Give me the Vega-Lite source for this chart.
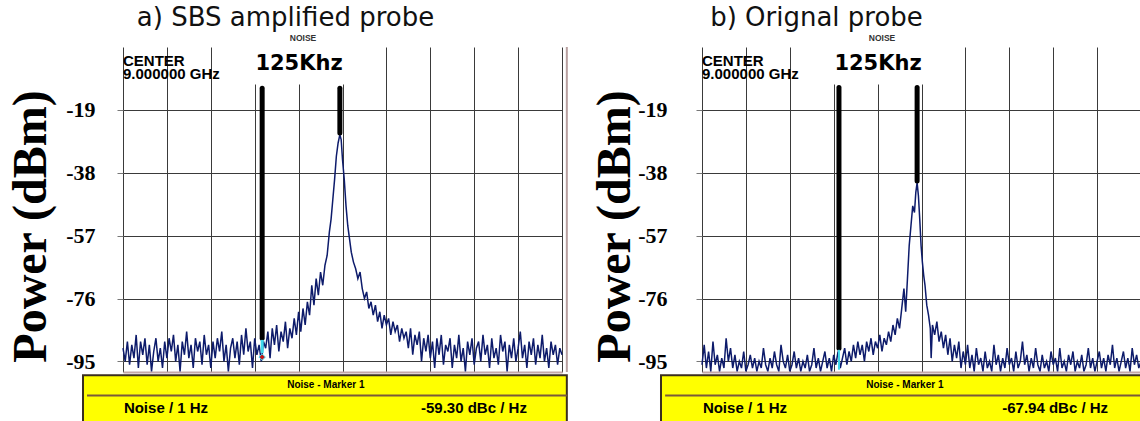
{
"$schema": "https://vega.github.io/schema/vega-lite/v6.json",
"autosize": {"type": "pad"},
"padding": {"left": 7, "top": 5, "right": 0, "bottom": 0},
"background": "white",
"bounds": "flush",
"spacing": 140,
"config": {"view": {"stroke": null}},
"datasets": {
"traceA": [
{"x":0,"y":-91},{"x":0.05,"y":-95},{"x":0.1,"y":-89},{"x":0.15,"y":-96},{"x":0.2,"y":-90},{"x":0.25,"y":-94},{"x":0.3,"y":-87},{"x":0.35,"y":-97},{"x":0.4,"y":-89},{"x":0.45,"y":-93},
{"x":0.5,"y":-88},{"x":0.55,"y":-96},{"x":0.6,"y":-90},{"x":0.65,"y":-98},{"x":0.7,"y":-92},{"x":0.75,"y":-88},{"x":0.8,"y":-95},{"x":0.85,"y":-91},{"x":0.9,"y":-97},{"x":0.95,"y":-89},
{"x":1,"y":-94},{"x":1.05,"y":-88},{"x":1.1,"y":-92},{"x":1.15,"y":-87},{"x":1.2,"y":-95},{"x":1.25,"y":-90},{"x":1.3,"y":-98},{"x":1.35,"y":-89},{"x":1.4,"y":-93},{"x":1.45,"y":-86},
{"x":1.5,"y":-94},{"x":1.55,"y":-90},{"x":1.6,"y":-97},{"x":1.65,"y":-88},{"x":1.7,"y":-92},{"x":1.75,"y":-89},{"x":1.8,"y":-96},{"x":1.85,"y":-87},{"x":1.9,"y":-93},{"x":1.95,"y":-90},
{"x":2,"y":-97},{"x":2.05,"y":-89},{"x":2.1,"y":-94},{"x":2.15,"y":-88},{"x":2.2,"y":-92},{"x":2.25,"y":-86},{"x":2.3,"y":-95},{"x":2.35,"y":-90},{"x":2.4,"y":-98},{"x":2.45,"y":-91},
{"x":2.5,"y":-88},{"x":2.55,"y":-94},{"x":2.6,"y":-89},{"x":2.65,"y":-96},{"x":2.7,"y":-87},{"x":2.75,"y":-93},{"x":2.8,"y":-85},{"x":2.85,"y":-92},{"x":2.9,"y":-89},{"x":2.95,"y":-97},
{"x":3,"y":-88},{"x":3.05,"y":-93},{"x":3.1,"y":-90},{"x":3.15,"y":-95},{"x":3.2,"y":-89},{"x":3.25,"y":-91},{"x":3.3,"y":-86},{"x":3.35,"y":-94},{"x":3.4,"y":-85},{"x":3.45,"y":-90},
{"x":3.5,"y":-84},{"x":3.55,"y":-92},{"x":3.6,"y":-86},{"x":3.65,"y":-89},{"x":3.7,"y":-83},{"x":3.75,"y":-91},{"x":3.8,"y":-85},{"x":3.85,"y":-88},{"x":3.9,"y":-82},{"x":3.95,"y":-87},
{"x":4,"y":-80},{"x":4.05,"y":-86},{"x":4.1,"y":-79},{"x":4.15,"y":-84},{"x":4.2,"y":-77},{"x":4.25,"y":-81},{"x":4.3,"y":-72},{"x":4.35,"y":-78},{"x":4.4,"y":-70},{"x":4.45,"y":-75},
{"x":4.5,"y":-68},{"x":4.55,"y":-72},{"x":4.6,"y":-66},{"x":4.65,"y":-63},{"x":4.7,"y":-56},{"x":4.74,"y":-52},{"x":4.78,"y":-46},{"x":4.82,"y":-40},{"x":4.86,"y":-33},{"x":4.9,"y":-29},
{"x":4.94,"y":-26.5},{"x":4.97,"y":-28},{"x":5,"y":-34},{"x":5.04,"y":-40},{"x":5.08,"y":-48},{"x":5.12,"y":-54},{"x":5.16,"y":-58},{"x":5.2,"y":-62},{"x":5.25,"y":-65},{"x":5.3,"y":-67},
{"x":5.35,"y":-70},{"x":5.4,"y":-68},{"x":5.45,"y":-73},{"x":5.5,"y":-76},{"x":5.55,"y":-74},{"x":5.6,"y":-79},{"x":5.65,"y":-77},{"x":5.7,"y":-81},{"x":5.75,"y":-78},{"x":5.8,"y":-83},
{"x":5.85,"y":-80},{"x":5.9,"y":-85},{"x":5.95,"y":-81},{"x":6,"y":-84},{"x":6.05,"y":-82},{"x":6.1,"y":-87},{"x":6.15,"y":-83},{"x":6.2,"y":-86},{"x":6.25,"y":-84},{"x":6.3,"y":-89},
{"x":6.35,"y":-85},{"x":6.4,"y":-88},{"x":6.45,"y":-86},{"x":6.5,"y":-91},{"x":6.55,"y":-85},{"x":6.6,"y":-93},{"x":6.65,"y":-87},{"x":6.7,"y":-90},{"x":6.75,"y":-86},{"x":6.8,"y":-95},
{"x":6.85,"y":-88},{"x":6.9,"y":-92},{"x":6.95,"y":-87},{"x":7,"y":-94},{"x":7.05,"y":-89},{"x":7.1,"y":-97},{"x":7.15,"y":-88},{"x":7.2,"y":-93},{"x":7.25,"y":-87},{"x":7.3,"y":-96},
{"x":7.35,"y":-90},{"x":7.4,"y":-92},{"x":7.45,"y":-88},{"x":7.5,"y":-97},{"x":7.55,"y":-90},{"x":7.6,"y":-94},{"x":7.65,"y":-87},{"x":7.7,"y":-95},{"x":7.75,"y":-91},{"x":7.8,"y":-98},
{"x":7.85,"y":-89},{"x":7.9,"y":-93},{"x":7.95,"y":-88},{"x":8,"y":-96},{"x":8.05,"y":-91},{"x":8.1,"y":-89},{"x":8.15,"y":-95},{"x":8.2,"y":-87},{"x":8.25,"y":-93},{"x":8.3,"y":-90},
{"x":8.35,"y":-97},{"x":8.4,"y":-88},{"x":8.45,"y":-94},{"x":8.5,"y":-91},{"x":8.55,"y":-96},{"x":8.6,"y":-87},{"x":8.65,"y":-92},{"x":8.7,"y":-89},{"x":8.75,"y":-98},{"x":8.8,"y":-90},
{"x":8.85,"y":-94},{"x":8.9,"y":-88},{"x":8.95,"y":-95},{"x":9,"y":-91},{"x":9.05,"y":-86},{"x":9.1,"y":-94},{"x":9.15,"y":-90},{"x":9.2,"y":-97},{"x":9.25,"y":-89},{"x":9.3,"y":-93},
{"x":9.35,"y":-88},{"x":9.4,"y":-96},{"x":9.45,"y":-90},{"x":9.5,"y":-94},{"x":9.55,"y":-87},{"x":9.6,"y":-95},{"x":9.65,"y":-91},{"x":9.7,"y":-97},{"x":9.75,"y":-89},{"x":9.8,"y":-93},
{"x":9.85,"y":-90},{"x":9.9,"y":-96},{"x":9.95,"y":-91},{"x":10,"y":-93}
],
"traceB": [
{"x":0,"y":-96},{"x":0.05,"y":-90},{"x":0.1,"y":-97},{"x":0.15,"y":-92},{"x":0.2,"y":-98},{"x":0.25,"y":-89},{"x":0.3,"y":-96},{"x":0.35,"y":-93},{"x":0.4,"y":-98},{"x":0.45,"y":-94},
{"x":0.5,"y":-97},{"x":0.55,"y":-88},{"x":0.6,"y":-95},{"x":0.65,"y":-91},{"x":0.7,"y":-97},{"x":0.75,"y":-93},{"x":0.8,"y":-98},{"x":0.85,"y":-95},{"x":0.9,"y":-97},{"x":0.95,"y":-92},
{"x":1,"y":-98},{"x":1.05,"y":-96},{"x":1.1,"y":-93},{"x":1.15,"y":-97},{"x":1.2,"y":-94},{"x":1.25,"y":-98},{"x":1.3,"y":-95},{"x":1.35,"y":-97},{"x":1.4,"y":-91},{"x":1.45,"y":-96},
{"x":1.5,"y":-98},{"x":1.55,"y":-94},{"x":1.6,"y":-97},{"x":1.65,"y":-92},{"x":1.7,"y":-96},{"x":1.75,"y":-98},{"x":1.8,"y":-90},{"x":1.85,"y":-95},{"x":1.9,"y":-97},{"x":1.95,"y":-93},
{"x":2,"y":-98},{"x":2.05,"y":-96},{"x":2.1,"y":-92},{"x":2.15,"y":-97},{"x":2.2,"y":-94},{"x":2.25,"y":-98},{"x":2.3,"y":-95},{"x":2.35,"y":-97},{"x":2.4,"y":-93},{"x":2.45,"y":-98},
{"x":2.5,"y":-96},{"x":2.55,"y":-91},{"x":2.6,"y":-97},{"x":2.65,"y":-94},{"x":2.7,"y":-98},{"x":2.75,"y":-95},{"x":2.8,"y":-92},{"x":2.85,"y":-97},{"x":2.9,"y":-94},{"x":2.95,"y":-98},
{"x":3,"y":-93},{"x":3.05,"y":-96},{"x":3.1,"y":-92},{"x":3.15,"y":-97},{"x":3.2,"y":-94},{"x":3.25,"y":-91},{"x":3.3,"y":-96},{"x":3.35,"y":-92},{"x":3.4,"y":-95},{"x":3.45,"y":-90},
{"x":3.5,"y":-94},{"x":3.55,"y":-89},{"x":3.6,"y":-93},{"x":3.65,"y":-90},{"x":3.7,"y":-95},{"x":3.75,"y":-89},{"x":3.8,"y":-92},{"x":3.85,"y":-88},{"x":3.9,"y":-93},{"x":3.95,"y":-89},
{"x":4,"y":-91},{"x":4.05,"y":-87},{"x":4.1,"y":-92},{"x":4.15,"y":-88},{"x":4.2,"y":-90},{"x":4.25,"y":-86},{"x":4.3,"y":-89},{"x":4.35,"y":-84},{"x":4.4,"y":-87},{"x":4.45,"y":-82},
{"x":4.5,"y":-85},{"x":4.55,"y":-79},{"x":4.6,"y":-73},{"x":4.64,"y":-80},{"x":4.68,"y":-70},{"x":4.72,"y":-60},{"x":4.76,"y":-54},{"x":4.8,"y":-48},{"x":4.84,"y":-50},{"x":4.87,"y":-44},
{"x":4.9,"y":-41},{"x":4.93,"y":-45},{"x":4.96,"y":-52},{"x":4.99,"y":-60},{"x":5.02,"y":-65},{"x":5.05,"y":-69},{"x":5.08,"y":-72},{"x":5.12,"y":-78},{"x":5.16,"y":-81},{"x":5.2,"y":-85},
{"x":5.22,"y":-94},{"x":5.25,"y":-84},{"x":5.3,"y":-87},{"x":5.35,"y":-83},{"x":5.4,"y":-89},{"x":5.45,"y":-86},{"x":5.5,"y":-91},{"x":5.55,"y":-87},{"x":5.6,"y":-93},{"x":5.65,"y":-88},
{"x":5.7,"y":-95},{"x":5.75,"y":-90},{"x":5.8,"y":-94},{"x":5.85,"y":-89},{"x":5.9,"y":-97},{"x":5.95,"y":-92},{"x":6,"y":-96},{"x":6.05,"y":-90},{"x":6.1,"y":-97},{"x":6.15,"y":-93},
{"x":6.2,"y":-98},{"x":6.25,"y":-91},{"x":6.3,"y":-96},{"x":6.35,"y":-94},{"x":6.4,"y":-98},{"x":6.45,"y":-92},{"x":6.5,"y":-97},{"x":6.55,"y":-95},{"x":6.6,"y":-98},{"x":6.65,"y":-90},
{"x":6.7,"y":-96},{"x":6.75,"y":-93},{"x":6.8,"y":-98},{"x":6.85,"y":-94},{"x":6.9,"y":-97},{"x":6.95,"y":-91},{"x":7,"y":-96},{"x":7.05,"y":-94},{"x":7.1,"y":-98},{"x":7.15,"y":-92},
{"x":7.2,"y":-97},{"x":7.25,"y":-95},{"x":7.3,"y":-89},{"x":7.35,"y":-96},{"x":7.4,"y":-93},{"x":7.45,"y":-98},{"x":7.5,"y":-94},{"x":7.55,"y":-97},{"x":7.6,"y":-91},{"x":7.65,"y":-96},
{"x":7.7,"y":-98},{"x":7.75,"y":-93},{"x":7.8,"y":-97},{"x":7.85,"y":-95},{"x":7.9,"y":-98},{"x":7.95,"y":-92},{"x":8,"y":-96},{"x":8.05,"y":-94},{"x":8.1,"y":-98},{"x":8.15,"y":-91},
{"x":8.2,"y":-97},{"x":8.25,"y":-95},{"x":8.3,"y":-98},{"x":8.35,"y":-93},{"x":8.4,"y":-96},{"x":8.45,"y":-92},{"x":8.5,"y":-98},{"x":8.55,"y":-95},{"x":8.6,"y":-97},{"x":8.65,"y":-93},
{"x":8.7,"y":-98},{"x":8.75,"y":-96},{"x":8.8,"y":-91},{"x":8.85,"y":-97},{"x":8.9,"y":-94},{"x":8.95,"y":-98},{"x":9,"y":-95},{"x":9.05,"y":-92},{"x":9.1,"y":-97},{"x":9.15,"y":-94},
{"x":9.2,"y":-98},{"x":9.25,"y":-93},{"x":9.3,"y":-96},{"x":9.35,"y":-90},{"x":9.4,"y":-97},{"x":9.45,"y":-94},{"x":9.5,"y":-98},{"x":9.55,"y":-95},{"x":9.6,"y":-92},{"x":9.65,"y":-97},
{"x":9.7,"y":-94},{"x":9.75,"y":-98},{"x":9.8,"y":-91},{"x":9.85,"y":-96},{"x":9.9,"y":-93},{"x":9.95,"y":-97},{"x":10,"y":-95}
]
},
"hconcat": [
{
"width": 439, "height": 325,
"title": {"text": "a) SBS amplified probe", "font": "DejaVu Sans", "fontSize": 26, "fontWeight": "normal", "color": "#111", "anchor": "middle", "frame": "group", "offset": -18, "baseline": "alphabetic", "dx": -57},
"layer": [
{"data": {"values": [{"x": 2.89, "x2": 5.08, "y": 0, "y2": -11.3}]}, "mark": {"type": "rect", "color": "white", "clip": false},
 "encoding": {"x": {"field": "x", "type": "quantitative", "title": null}, "x2": {"field": "x2"}, "y": {"field": "y", "type": "quantitative", "title": "Power (dBm)"}, "y2": {"field": "y2"}}},
{"data": {"name": "traceA"}, "mark": {"type": "line", "color": "#0d1b6b", "strokeWidth": 1.5},
 "encoding": {
  "x": {"field": "x", "type": "quantitative", "title": null, "scale": {"domain": [0, 10], "nice": false, "zero": false},
        "axis": {"values": [0,1,2,3,4,5,6,7,8,9,10], "labels": false, "ticks": false, "domain": true, "domainColor": "#c4a8a8", "domainWidth": 2, "grid": true, "gridColor": "#3a3a3a", "gridWidth": 1}},
  "y": {"field": "y", "type": "quantitative", "title": "Power (dBm)", "scale": {"domain": [-98.2, 0], "nice": false, "zero": false},
        "axis": {"values": [-9.5,-19,-28.5,-38,-47.5,-57,-66.5,-76,-85.5,-95], "grid": true, "gridColor": "#3a3a3a", "gridWidth": 1, "domain": false, "ticks": true, "tickSize": 6, "tickColor": "#777",
                 "labelExpr": "datum.value % 19 == 0 ? '-' + abs(datum.value) : ''", "labelFont": "Liberation Serif", "labelFontWeight": "bold", "labelFontSize": 22, "labelColor": "#000", "labelPadding": 22, "labelOverlap": false,
                 "titleFont": "Liberation Serif", "titleFontWeight": "bold", "titleFontSize": 48, "titleColor": "#000", "titleAngle": 270, "titleAlign": "center", "titleBaseline": "alphabetic", "titleX": -78, "titleY": 179}}
 }},
{"data": {"values": [{"x": 10.11, "y": 0, "y2": -98.2}]}, "mark": {"type": "rule", "color": "#b8a0a0", "strokeWidth": 2, "clip": false},
 "encoding": {"x": {"field": "x", "type": "quantitative", "title": null}, "y": {"field": "y", "type": "quantitative", "title": "Power (dBm)"}, "y2": {"field": "y2"}}},
{"data": {"values": [{"x": 3.17, "y": -12.5, "y2": -88}, {"x": 4.94, "y": -12.5, "y2": -26}]}, "mark": {"type": "rule", "color": "black", "strokeWidth": 5, "strokeCap": "round"},
 "encoding": {"x": {"field": "x", "type": "quantitative", "title": null}, "y": {"field": "y", "type": "quantitative", "title": "Power (dBm)"}, "y2": {"field": "y2"}}},
{"data": {"values": [{"x": 3.17, "y": -88.5, "y2": -92.5}]}, "mark": {"type": "rule", "color": "#40d8ec", "strokeWidth": 3},
 "encoding": {"x": {"field": "x", "type": "quantitative", "title": null}, "y": {"field": "y", "type": "quantitative", "title": "Power (dBm)"}, "y2": {"field": "y2"}}},
{"data": {"values": [{"x": 3.17, "y": -93.7}]}, "mark": {"type": "point", "shape": "diamond", "filled": true, "color": "#c01818", "stroke": "#40d8ec", "strokeWidth": 1, "size": 40, "opacity": 1},
 "encoding": {"x": {"field": "x", "type": "quantitative", "title": null}, "y": {"field": "y", "type": "quantitative", "title": "Power (dBm)"}}},
{"data": {"values": [{"x": 0, "y": -5.86, "t": "CENTER"}, {"x": 0, "y": -9.8, "t": "9.000000 GHz"}]}, "mark": {"type": "text", "align": "left", "baseline": "alphabetic", "font": "Liberation Sans", "fontWeight": "bold", "fontSize": 15, "color": "#000", "clip": false},
 "encoding": {"x": {"field": "x", "type": "quantitative", "title": null}, "y": {"field": "y", "type": "quantitative", "title": "Power (dBm)"}, "text": {"field": "t"}}},
{"data": {"values": [{"x": 4.01, "y": -7.07, "t": "125Khz"}]}, "mark": {"type": "text", "align": "center", "baseline": "alphabetic", "font": "DejaVu Sans", "fontWeight": "bold", "fontSize": 21, "color": "#000", "clip": false},
 "encoding": {"x": {"field": "x", "type": "quantitative", "title": null}, "y": {"field": "y", "type": "quantitative", "title": "Power (dBm)"}, "text": {"field": "t"}}},
{"data": {"values": [{"x": 4.10, "y": 1.7, "t": "NOISE"}]}, "mark": {"type": "text", "align": "center", "baseline": "alphabetic", "font": "Liberation Sans", "fontWeight": "bold", "fontSize": 8.5, "color": "#333", "clip": false},
 "encoding": {"x": {"field": "x", "type": "quantitative", "title": null}, "y": {"field": "y", "type": "quantitative", "title": "Power (dBm)"}, "text": {"field": "t"}}},
{"data": {"values": [{"x": -0.911, "x2": 10.11, "y": -99.2, "y2": -116}]}, "mark": {"type": "rect", "fill": "#ffff00", "stroke": "#3b2f1f", "strokeWidth": 2, "clip": false},
 "encoding": {"x": {"field": "x", "type": "quantitative", "title": null}, "x2": {"field": "x2"}, "y": {"field": "y", "type": "quantitative", "title": "Power (dBm)"}, "y2": {"field": "y2"}}},
{"data": {"values": [{"x": -0.82, "x2": 10.11, "y": -105.3}]}, "mark": {"type": "rule", "color": "#7a5a3a", "strokeWidth": 2, "clip": false},
 "encoding": {"x": {"field": "x", "type": "quantitative", "title": null}, "x2": {"field": "x2"}, "y": {"field": "y", "type": "quantitative", "title": "Power (dBm)"}}},
{"data": {"values": [{"x": 4.62, "y": -103.1, "t": "Noise - Marker 1"}]}, "mark": {"type": "text", "align": "center", "baseline": "alphabetic", "font": "Liberation Sans", "fontWeight": "bold", "fontSize": 10, "color": "#000", "clip": false},
 "encoding": {"x": {"field": "x", "type": "quantitative", "title": null}, "y": {"field": "y", "type": "quantitative", "title": "Power (dBm)"}, "text": {"field": "t"}}},
{"data": {"values": [{"x": 0.02, "y": -110.7, "t": "Noise / 1 Hz"}]}, "mark": {"type": "text", "align": "left", "baseline": "alphabetic", "font": "Liberation Sans", "fontWeight": "bold", "fontSize": 15, "color": "#000", "clip": false},
 "encoding": {"x": {"field": "x", "type": "quantitative", "title": null}, "y": {"field": "y", "type": "quantitative", "title": "Power (dBm)"}, "text": {"field": "t"}}},
{"data": {"values": [{"x": 9.20, "y": -110.7, "t": "-59.30 dBc / Hz"}]}, "mark": {"type": "text", "align": "right", "baseline": "alphabetic", "font": "Liberation Sans", "fontWeight": "bold", "fontSize": 15, "color": "#000", "clip": false},
 "encoding": {"x": {"field": "x", "type": "quantitative", "title": null}, "y": {"field": "y", "type": "quantitative", "title": "Power (dBm)"}, "text": {"field": "t"}}}
]
},
{
"width": 439, "height": 325,
"title": {"text": "b) Orignal probe", "font": "DejaVu Sans", "fontSize": 26, "fontWeight": "normal", "color": "#111", "anchor": "middle", "frame": "group", "offset": -18, "baseline": "alphabetic", "dx": -105},
"layer": [
{"data": {"values": [{"x": 2.94, "x2": 5.06, "y": 0, "y2": -11.3}]}, "mark": {"type": "rect", "color": "white", "clip": false},
 "encoding": {"x": {"field": "x", "type": "quantitative", "title": null}, "x2": {"field": "x2"}, "y": {"field": "y", "type": "quantitative", "title": "Power (dBm)"}, "y2": {"field": "y2"}}},
{"data": {"name": "traceB"}, "mark": {"type": "line", "color": "#0d1b6b", "strokeWidth": 1.5},
 "encoding": {
  "x": {"field": "x", "type": "quantitative", "title": null, "scale": {"domain": [0, 10], "nice": false, "zero": false},
        "axis": {"values": [0,1,2,3,4,5,6,7,8,9,10], "labels": false, "ticks": false, "domain": true, "domainColor": "#c4a8a8", "domainWidth": 2, "grid": true, "gridColor": "#3a3a3a", "gridWidth": 1}},
  "y": {"field": "y", "type": "quantitative", "title": "Power (dBm)", "scale": {"domain": [-98.2, 0], "nice": false, "zero": false},
        "axis": {"values": [-9.5,-19,-28.5,-38,-47.5,-57,-66.5,-76,-85.5,-95], "grid": true, "gridColor": "#3a3a3a", "gridWidth": 1, "domain": false, "ticks": true, "tickSize": 6, "tickColor": "#777",
                 "labelExpr": "datum.value % 19 == 0 ? '-' + abs(datum.value) : ''", "labelFont": "Liberation Serif", "labelFontWeight": "bold", "labelFontSize": 22, "labelColor": "#000", "labelPadding": 29, "labelOverlap": false,
                 "titleFont": "Liberation Serif", "titleFontWeight": "bold", "titleFontSize": 48, "titleColor": "#000", "titleAngle": 270, "titleAlign": "center", "titleBaseline": "alphabetic", "titleX": -73, "titleY": 179}}
 }},
{"data": {"values": [{"x": 3.12, "y": -12.2, "y2": -91}, {"x": 4.90, "y": -12.2, "y2": -40.5}]}, "mark": {"type": "rule", "color": "black", "strokeWidth": 5, "strokeCap": "round"},
 "encoding": {"x": {"field": "x", "type": "quantitative", "title": null}, "y": {"field": "y", "type": "quantitative", "title": "Power (dBm)"}, "y2": {"field": "y2"}}},
{"data": {"values": [{"x": 3.12, "y": -91.5, "y2": -97.5}]}, "mark": {"type": "rule", "color": "#40d8ec", "strokeWidth": 2},
 "encoding": {"x": {"field": "x", "type": "quantitative", "title": null}, "y": {"field": "y", "type": "quantitative", "title": "Power (dBm)"}, "y2": {"field": "y2"}}},
{"data": {"values": [{"x": 0, "y": -5.86, "t": "CENTER"}, {"x": 0, "y": -9.8, "t": "9.000000 GHz"}]}, "mark": {"type": "text", "align": "left", "baseline": "alphabetic", "font": "Liberation Sans", "fontWeight": "bold", "fontSize": 15, "color": "#000", "clip": false},
 "encoding": {"x": {"field": "x", "type": "quantitative", "title": null}, "y": {"field": "y", "type": "quantitative", "title": "Power (dBm)"}, "text": {"field": "t"}}},
{"data": {"values": [{"x": 4.01, "y": -7.07, "t": "125Khz"}]}, "mark": {"type": "text", "align": "center", "baseline": "alphabetic", "font": "DejaVu Sans", "fontWeight": "bold", "fontSize": 21, "color": "#000", "clip": false},
 "encoding": {"x": {"field": "x", "type": "quantitative", "title": null}, "y": {"field": "y", "type": "quantitative", "title": "Power (dBm)"}, "text": {"field": "t"}}},
{"data": {"values": [{"x": 4.10, "y": 1.7, "t": "NOISE"}]}, "mark": {"type": "text", "align": "center", "baseline": "alphabetic", "font": "Liberation Sans", "fontWeight": "bold", "fontSize": 8.5, "color": "#333", "clip": false},
 "encoding": {"x": {"field": "x", "type": "quantitative", "title": null}, "y": {"field": "y", "type": "quantitative", "title": "Power (dBm)"}, "text": {"field": "t"}}},
{"data": {"values": [{"x": -0.934, "x2": 10.3, "y": -99.2, "y2": -116}]}, "mark": {"type": "rect", "fill": "#ffff00", "stroke": "#3b2f1f", "strokeWidth": 2, "clip": false},
 "encoding": {"x": {"field": "x", "type": "quantitative", "title": null}, "x2": {"field": "x2"}, "y": {"field": "y", "type": "quantitative", "title": "Power (dBm)"}, "y2": {"field": "y2"}}},
{"data": {"values": [{"x": -0.84, "x2": 10.3, "y": -105.3}]}, "mark": {"type": "rule", "color": "#7a5a3a", "strokeWidth": 2, "clip": false},
 "encoding": {"x": {"field": "x", "type": "quantitative", "title": null}, "x2": {"field": "x2"}, "y": {"field": "y", "type": "quantitative", "title": "Power (dBm)"}}},
{"data": {"values": [{"x": 4.62, "y": -103.1, "t": "Noise - Marker 1"}]}, "mark": {"type": "text", "align": "center", "baseline": "alphabetic", "font": "Liberation Sans", "fontWeight": "bold", "fontSize": 10, "color": "#000", "clip": false},
 "encoding": {"x": {"field": "x", "type": "quantitative", "title": null}, "y": {"field": "y", "type": "quantitative", "title": "Power (dBm)"}, "text": {"field": "t"}}},
{"data": {"values": [{"x": 0.02, "y": -110.7, "t": "Noise / 1 Hz"}]}, "mark": {"type": "text", "align": "left", "baseline": "alphabetic", "font": "Liberation Sans", "fontWeight": "bold", "fontSize": 15, "color": "#000", "clip": false},
 "encoding": {"x": {"field": "x", "type": "quantitative", "title": null}, "y": {"field": "y", "type": "quantitative", "title": "Power (dBm)"}, "text": {"field": "t"}}},
{"data": {"values": [{"x": 9.25, "y": -110.7, "t": "-67.94 dBc / Hz"}]}, "mark": {"type": "text", "align": "right", "baseline": "alphabetic", "font": "Liberation Sans", "fontWeight": "bold", "fontSize": 15, "color": "#000", "clip": false},
 "encoding": {"x": {"field": "x", "type": "quantitative", "title": null}, "y": {"field": "y", "type": "quantitative", "title": "Power (dBm)"}, "text": {"field": "t"}}}
]
}
]
}
